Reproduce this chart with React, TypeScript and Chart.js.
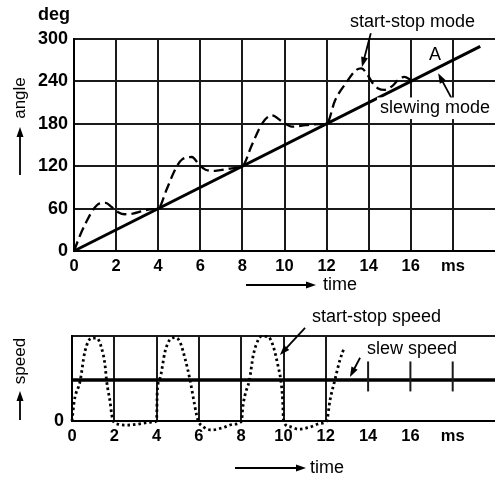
import React, { useEffect, useRef } from 'react';
import { Chart, registerables } from 'chart.js';

Chart.register(...registerables);

const FONT = '"Liberation Sans", Arial, Helvetica, sans-serif';

// ---------- top chart data (angle vs time) ----------
const timeTicks = [0, 2, 4, 6, 8, 10, 12, 14, 16, 18, 20];
const angleTicks = [0, 60, 120, 180, 240, 300];
const slewTime = [0, 19.3];
const slewAngle = [0, 289.5];
const startStopTime = [
  0, 0.3, 0.6, 0.9, 1.2, 1.5, 1.8, 2.1, 2.4, 2.8, 3.2, 3.6, 4,
  4.4, 4.8, 5.15, 5.6, 5.95, 6.25, 6.7, 7.5, 8,
  8.45, 8.95, 9.4, 9.85, 10.35, 11, 11.6, 12,
  12.4, 12.95, 13.4, 13.65, 13.95, 14.2, 14.45, 14.75, 15.1, 15.4, 15.7, 16,
];
const startStopAngle = [
  0, 23, 42, 58, 67, 68, 62, 55, 52, 53, 56, 59, 60,
  87, 115, 130, 133, 122, 115, 113.5, 117, 120,
  150, 181, 192, 184, 176, 178, 179.5, 180,
  213, 239, 256, 258.5, 249, 237, 230, 228, 233, 242, 246.5, 242,
];

// ---------- bottom chart data (speed vs time) ----------
const speedTicks = [0, 1, 2.07];
const slewSpeedTime = [0, 20];
const slewSpeedValue = [1, 1];
const startStopSpeedTime = [
  0, 0.11, 0.38, 0.61, 0.93, 1.17, 1.4, 1.56, 1.64, 1.8, 1.88, 1.95,
  2.19, 2.58, 3.21, 3.69, 4.0,
  4.03, 4.16, 4.4, 4.63, 4.87, 5.1, 5.34, 5.58, 5.74, 5.89, 5.97,
  6.2, 6.6, 7.15, 7.63, 8.02,
  8.07, 8.18, 8.39, 8.57, 8.81, 8.95, 9.25, 9.52, 9.75, 9.87, 9.96, 10.0,
  10.31, 10.7, 11.25, 11.73, 12.04,
  12.2, 12.43, 12.67, 12.86,
];
const startStopSpeedValue = [
  0, 0.5, 0.96, 1.69, 2.02, 2.02, 1.77, 1.37, 0.96, 0.47, 0.15, 0,
  -0.08, -0.1, -0.07, -0.03, 0,
  0.71, 1.04, 1.69, 1.98, 2.03, 1.93, 1.53, 1.0, 0.55, 0.15, 0,
  -0.14, -0.22, -0.16, -0.08, 0,
  0.31, 0.63, 1.0, 1.6, 1.98, 2.06, 2.06, 1.81, 1.32, 1.0, 0.51, 0,
  -0.14, -0.2, -0.15, -0.06, 0,
  0.51, 1.0, 1.49, 1.77,
];
const shortGridTimes = [14, 16, 18];

type TextNote = {
  text: string; x: number; y: number; space: 'data' | 'px';
  align: CanvasTextAlign; size: number; bold?: boolean; rotate?: boolean; bg?: boolean;
};
type ArrowNote = { x1: number; y1: number; x2: number; y2: number; space: 'data' | 'px' };

const notesPlugin = {
  id: 'notes',
  afterDatasetsDraw(chart: any, _args: any, opts: any) {
    const ctx: CanvasRenderingContext2D = chart.ctx;
    const xs = chart.scales.x;
    const ys = chart.scales.y;
    const P = (x: number, y: number, space: string) =>
      space === 'data' ? [xs.getPixelForValue(x), ys.getPixelForValue(y)] : [x, y];
    ctx.save();
    if (opts.shortTicks) {
      const st = opts.shortTicks;
      ctx.strokeStyle = '#1a1a1a';
      ctx.lineWidth = 2;
      for (const t of st.times) {
        const px = xs.getPixelForValue(t);
        ctx.beginPath();
        ctx.moveTo(px, ys.getPixelForValue(st.from));
        ctx.lineTo(px, ys.getPixelForValue(st.to));
        ctx.stroke();
      }
    }
    for (const a of (opts.arrows || []) as ArrowNote[]) {
      const [x1, y1] = P(a.x1, a.y1, a.space);
      const [x2, y2] = P(a.x2, a.y2, a.space);
      const ang = Math.atan2(y2 - y1, x2 - x1);
      const hl = 10, hw = 3.5;
      ctx.strokeStyle = '#000';
      ctx.fillStyle = '#000';
      ctx.lineWidth = 1.8;
      ctx.beginPath();
      ctx.moveTo(x1, y1);
      ctx.lineTo(x2 - Math.cos(ang) * hl * 0.8, y2 - Math.sin(ang) * hl * 0.8);
      ctx.stroke();
      ctx.beginPath();
      ctx.moveTo(x2, y2);
      ctx.lineTo(x2 - Math.cos(ang) * hl - Math.sin(ang) * hw, y2 - Math.sin(ang) * hl + Math.cos(ang) * hw);
      ctx.lineTo(x2 - Math.cos(ang) * hl + Math.sin(ang) * hw, y2 - Math.sin(ang) * hl - Math.cos(ang) * hw);
      ctx.closePath();
      ctx.fill();
    }
    for (const t of (opts.texts || []) as TextNote[]) {
      const [x, y] = P(t.x, t.y, t.space);
      ctx.save();
      ctx.translate(x, y);
      if (t.rotate) ctx.rotate(-Math.PI / 2);
      ctx.font = `${t.bold ? 'bold ' : ''}${t.size}px ${FONT}`;
      ctx.textAlign = t.align;
      ctx.textBaseline = 'middle';
      if (t.bg) {
        const w = ctx.measureText(t.text).width;
        const left = t.align === 'left' ? 0 : t.align === 'center' ? -w / 2 : -w;
        ctx.fillStyle = '#fff';
        ctx.fillRect(left - 3, -t.size * 0.6, w + 6, t.size * 1.2);
      }
      ctx.fillStyle = '#000';
      ctx.fillText(t.text, 0, 0);
      ctx.restore();
    }
    ctx.restore();
  },
};

const topTexts: TextNote[] = [
  { text: 'deg', x: 38, y: 15, space: 'px', align: 'left', size: 18, bold: true },
  { text: 'angle', x: 20, y: 98, space: 'px', align: 'center', size: 17, rotate: true },
  { text: 'time', x: 323, y: 285, space: 'px', align: 'left', size: 18 },
  { text: 'start-stop mode', x: 13.11, y: 324, space: 'data', align: 'left', size: 18 },
  { text: 'A', x: 17.15, y: 277, space: 'data', align: 'center', size: 18 },
  { text: 'slewing mode', x: 14.54, y: 202, space: 'data', align: 'left', size: 18, bg: true },
];
const topArrows: ArrowNote[] = [
  { x1: 20, y1: 175, x2: 20, y2: 127, space: 'px' },
  { x1: 246, y1: 285, x2: 316, y2: 285, space: 'px' },
  { x1: 14.1, y1: 308, x2: 13.68, y2: 260.4, space: 'data' },
  { x1: 17.94, y1: 216, x2: 17.3, y2: 251.5, space: 'data' },
];
const bottomTexts: TextNote[] = [
  { text: 'speed', x: 20, y: 61, space: 'px', align: 'center', size: 17, rotate: true },
  { text: 'time', x: 310, y: 168, space: 'px', align: 'left', size: 18 },
  { text: 'start-stop speed', x: 11.35, y: 2.54, space: 'data', align: 'left', size: 18 },
  { text: 'slew speed', x: 13.95, y: 1.76, space: 'data', align: 'left', size: 18, bg: true },
];
const bottomArrows: ArrowNote[] = [
  { x1: 20, y1: 120, x2: 20, y2: 91, space: 'px' },
  { x1: 235, y1: 168, x2: 306, y2: 168, space: 'px' },
  { x1: 11.02, y1: 2.27, x2: 9.83, y2: 1.61, space: 'data' },
  { x1: 13.62, y1: 1.54, x2: 13.14, y2: 1.07, space: 'data' },
];

const GRID = '#1a1a1a';
const NONE = 'rgba(0,0,0,0)';

function xScale(gridColor: any, height: number) {
  return {
    type: 'linear' as const,
    min: 0,
    max: 20,
    afterBuildTicks: (s: any) => { s.ticks = timeTicks.map((v) => ({ value: v })); },
    afterFit: (s: any) => { s.height = height; s.paddingLeft = 0; s.paddingRight = 0; },
    ticks: {
      callback: (v: any) => (v === 18 ? 'ms' : v === 20 ? '' : String(v)),
      font: { size: 16.5, weight: 'bold' as const, family: FONT },
      color: '#000',
      padding: 6,
      maxRotation: 0,
      autoSkip: false,
    },
    grid: { color: gridColor, lineWidth: 2, drawTicks: false },
    border: { display: true, color: '#000', width: 2 },
  };
}

function TopChart() {
  const ref = useRef<HTMLCanvasElement>(null);
  useEffect(() => {
    const chart = new Chart(ref.current!, {
      type: 'line',
      data: {
        datasets: [
          {
            label: 'slewing mode',
            data: slewTime.map((t, i) => ({ x: t, y: slewAngle[i] })),
            borderColor: '#000', borderWidth: 3, pointRadius: 0, clip: false,
          },
          {
            label: 'start-stop mode',
            data: startStopTime.map((t, i) => ({ x: t, y: startStopAngle[i] })),
            borderColor: '#000', borderWidth: 2.3, borderDash: [10, 5], pointRadius: 0,
            cubicInterpolationMode: 'monotone', clip: false,
          },
        ],
      },
      options: {
        responsive: false,
        animation: false,
        layout: { autoPadding: false, padding: { top: 39, left: 0, right: 0, bottom: 0 } },
        plugins: {
          legend: { display: false },
          tooltip: { enabled: false },
          notes: { texts: topTexts, arrows: topArrows },
        } as any,
        scales: {
          x: xScale((c: any) => (c.tick && c.tick.value < 20 ? GRID : NONE), 49),
          y: {
            type: 'linear',
            min: 0,
            max: 300,
            afterBuildTicks: (s: any) => { s.ticks = angleTicks.map((v) => ({ value: v })); },
            ticks: {
              font: { size: 18, weight: 'bold', family: FONT },
              color: '#000',
              padding: 6,
            },
            grid: { color: GRID, lineWidth: 2, drawTicks: false },
            border: { display: true, color: '#000', width: 2 },
            afterFit: (s: any) => { s.width = 74; s.paddingTop = 0; s.paddingBottom = 0; },
          },
        },
      },
      plugins: [notesPlugin],
    } as any);
    return () => chart.destroy();
  }, []);
  return <canvas ref={ref} width={495} height={300} style={{ position: 'absolute', left: 0, top: 0 }} />;
}

function BottomChart() {
  const ref = useRef<HTMLCanvasElement>(null);
  useEffect(() => {
    const chart = new Chart(ref.current!, {
      type: 'line',
      data: {
        datasets: [
          {
            label: 'slew speed',
            data: slewSpeedTime.map((t, i) => ({ x: t, y: slewSpeedValue[i] })),
            borderColor: '#000', borderWidth: 3.5, pointRadius: 0, clip: false,
          },
          {
            label: 'start-stop speed',
            data: startStopSpeedTime.map((t, i) => ({ x: t, y: startStopSpeedValue[i] })),
            borderColor: '#000', borderWidth: 2.8, borderDash: [2.5, 3], pointRadius: 0,
            cubicInterpolationMode: 'monotone', clip: false,
          },
        ],
      },
      options: {
        responsive: false,
        animation: false,
        layout: { autoPadding: false, padding: { top: 36, left: 0, right: 0, bottom: 0 } },
        plugins: {
          legend: { display: false },
          tooltip: { enabled: false },
          notes: {
            texts: bottomTexts,
            arrows: bottomArrows,
            shortTicks: { times: shortGridTimes, from: 0.72, to: 1.45 },
          },
        } as any,
        scales: {
          x: xScale((c: any) => (c.tick && c.tick.value <= 12 ? GRID : NONE), 57),
          y: {
            type: 'linear',
            min: 0,
            max: 2.07,
            afterBuildTicks: (s: any) => { s.ticks = speedTicks.map((v) => ({ value: v })); },
            ticks: {
              callback: (v: any) => (v === 0 ? '0' : ''),
              font: { size: 18, weight: 'bold', family: FONT },
              color: '#000',
              padding: 8,
            },
            grid: { color: GRID, lineWidth: 2, drawTicks: false },
            border: { display: true, color: '#000', width: 2 },
            afterFit: (s: any) => { s.width = 72; s.paddingTop = 0; s.paddingBottom = 0; },
          },
        },
      },
      plugins: [notesPlugin],
    } as any);
    return () => chart.destroy();
  }, []);
  return <canvas ref={ref} width={495} height={178} style={{ position: 'absolute', left: 0, top: 300 }} />;
}

export default function App() {
  return (
    <div style={{ position: 'absolute', left: 0, top: 0, width: 495, height: 478, overflow: 'hidden', background: '#fff' }}>
      <TopChart />
      <BottomChart />
    </div>
  );
}
